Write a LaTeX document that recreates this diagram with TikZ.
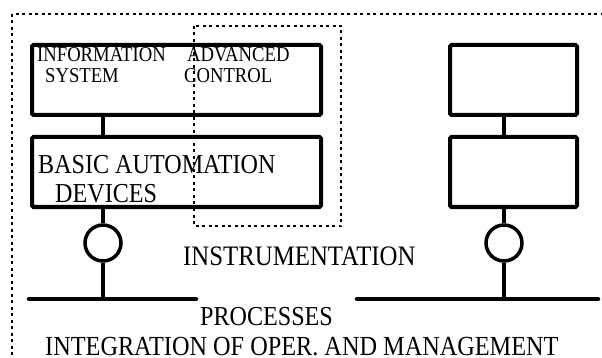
\documentclass[tikz,border=0pt]{standalone}
\usepackage{fontspec}
\newfontfamily\narrowserif[FakeStretch=0.88]{Liberation Serif}
\usetikzlibrary{positioning}

\begin{document}
\begin{tikzpicture}[x=1pt, y=-1pt,
        blockbox/.style={draw, line width=4pt, rounded corners=1.5pt, rectangle, inner sep=0pt},
        sensor/.style={draw, line width=3.5pt, circle, minimum size=36pt, inner sep=0pt},
        link/.style={line width=4pt},
        bus/.style={line width=4.5pt, line cap=round},
        frame/.style={line width=1.5pt, dash pattern=on 3pt off 3.5pt},
        lbl/.style={anchor=base west, inner sep=0pt, font=\narrowserif\fontsize{#1}{#1}\selectfont}
    ]
    \useasboundingbox (0,0) rectangle (602,358);
    \node[blockbox, minimum width=289pt, minimum height=70pt] (infoL) at (176.5,80) {};
    \node[blockbox, minimum width=289pt, minimum height=70pt] (basicL) at (176.5,172) {};
    \node[blockbox, minimum width=127pt, minimum height=70pt] (infoR) at (513.5,80) {};
    \node[blockbox, minimum width=127pt, minimum height=70pt] (basicR) at (513.5,172) {};
    \node[sensor] (instL) at (103,243) {};
    \node[sensor] (instR) at (504,243) {};
    \coordinate (busLw) at (29,299);
    \coordinate (busLe) at (196,299);
    \coordinate (busRw) at (357,299);
    \coordinate (busRe) at (598,299);

    \draw[link] (infoL.south -| instL) -- (basicL.north -| instL);
    \draw[link] (basicL.south -| instL) -- (instL.north);
    \draw[link] (instL.south) -- (instL |- busLw);
    \draw[link] (infoR.south -| instR) -- (basicR.north -| instR);
    \draw[link] (basicR.south -| instR) -- (instR.north);
    \draw[link] (instR.south) -- (instR |- busRw);
    \draw[bus] (busLw) -- (busLe);
    \draw[bus] (busRw) -- (busRe);

    \draw[frame] (12,14) rectangle (640,400);
    \draw[frame] (194,26) rectangle (341,226);

    \node[lbl=21.2] (info1) at (37,62) {INFORMATION};
    \node[lbl=21.2] (info2) at (45,83) {SYSTEM};
    \node[lbl=21.2] (adv1) at (187,62) {ADVANCED};
    \node[lbl=21.2] (adv2) at (184,83) {CONTROL};
    \node[lbl=27.4] (basic1) at (38,174) {BASIC AUTOMATION};
    \node[lbl=27.4] (basic2) at (55,203) {DEVICES};
    \node[lbl=28.2] (instr) at (183,265) {INSTRUMENTATION};
    \node[lbl=27.4] (proc) at (200,325) {PROCESSES};
    \node[lbl=27.6] (integ) at (45,355) {INTEGRATION OF OPER. AND MANAGEMENT};
\end{tikzpicture}
\end{document}
